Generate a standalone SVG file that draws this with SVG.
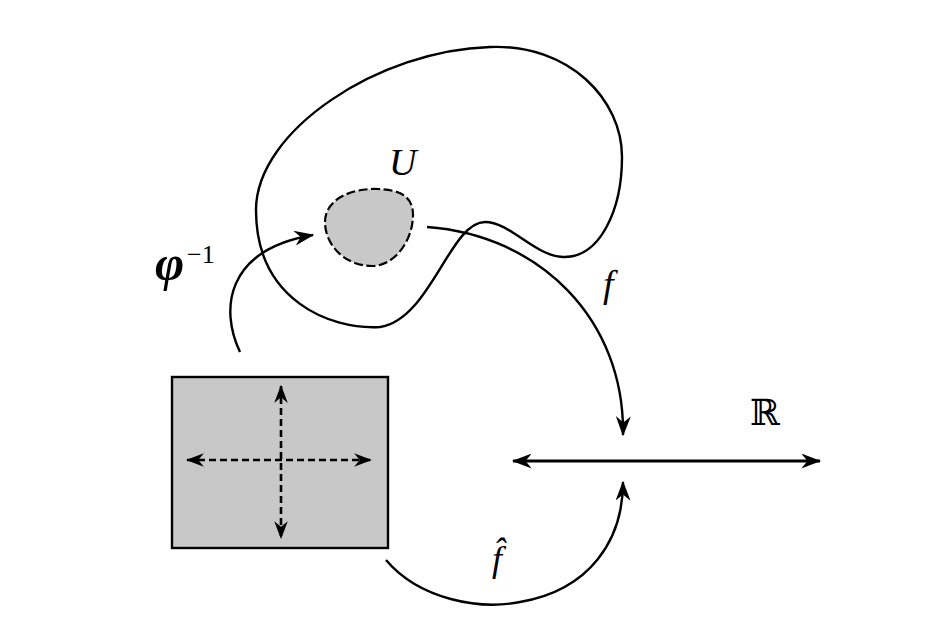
<svg xmlns="http://www.w3.org/2000/svg" width="933" height="630" viewBox="0 0 933 630">
<defs>
<marker id="ah" viewBox="0 0 16 12" refX="15" refY="6" markerWidth="20" markerHeight="15" markerUnits="userSpaceOnUse" orient="auto-start-reverse">
<path d="M0,0 L16,6 L0,12 L5,6 Z" fill="#000"/>
</marker>
<marker id="ahs" viewBox="0 0 16 12" refX="15" refY="6" markerWidth="18" markerHeight="14" markerUnits="userSpaceOnUse" orient="auto-start-reverse">
<path d="M0,0 L16,6 L0,12 L5,6 Z" fill="#000"/>
</marker>
</defs>
<style>
.ln{fill:none;stroke:#000;stroke-width:2.4}
.lbl{font-family:"Liberation Serif","DejaVu Serif",serif;font-style:italic;fill:#000}
</style>
<rect width="933" height="630" fill="#fff"/>
<g id="manifold">
<path class="ln" d="M256 210 C256 130 380 50 490 47 C570 44 622 100 622 157 C622 210 600 258 563 257 C535 256 510 222 485 222 C450 222 430 320 380 327 C330 330 256 300 256 210 Z"/>
</g>
<g id="U">
<path d="M325 222 C325 200 350 188 378 189 C400 190 413 196 413 215 C413 240 395 266 372 266 C345 266 325 245 325 222 Z" fill="#c8c8c8" stroke="#000" stroke-width="2.2" stroke-dasharray="9 3.5"/>
<text class="lbl" x="389" y="175" font-size="38">U</text>
</g>
<g id="chart">
<rect x="172" y="377" width="216" height="171" fill="#c8c8c8" stroke="#000" stroke-width="2.4"/>
<line x1="187" y1="460" x2="371" y2="460" stroke="#000" stroke-width="2.6" stroke-dasharray="7 4" marker-start="url(#ahs)" marker-end="url(#ahs)"/>
<line x1="281" y1="386" x2="281" y2="538" stroke="#000" stroke-width="2.6" stroke-dasharray="7 4" marker-start="url(#ahs)" marker-end="url(#ahs)"/>
</g>
<g id="R">
<line x1="513" y1="461" x2="820" y2="461" stroke="#000" stroke-width="2.8" marker-start="url(#ah)" marker-end="url(#ah)"/>
<text x="750" y="425" font-family="DejaVu Serif,serif" font-size="36" fill="#000">ℝ</text>
</g>
<g id="connectors">
<path class="ln" d="M240 352 C220 310 225 250 313 235" marker-end="url(#ah)"/>
<path class="ln" d="M427 227 C540 235 625 320 623 435" marker-end="url(#ah)"/>
<path class="ln" d="M386 560 C420 600 480 610 520 602 C590 590 623 540 623 482" marker-end="url(#ah)"/>
</g>
<g id="labels">
<text class="lbl" x="155" y="280" font-size="50" font-weight="bold">φ</text>
<text x="187" y="263" font-family="Liberation Serif,serif" font-size="26" fill="#000">−1</text>
<text class="lbl" x="603" y="297" font-size="38">f</text>
<text class="lbl" x="492" y="571" font-size="36">f̂</text>
</g>
</svg>
